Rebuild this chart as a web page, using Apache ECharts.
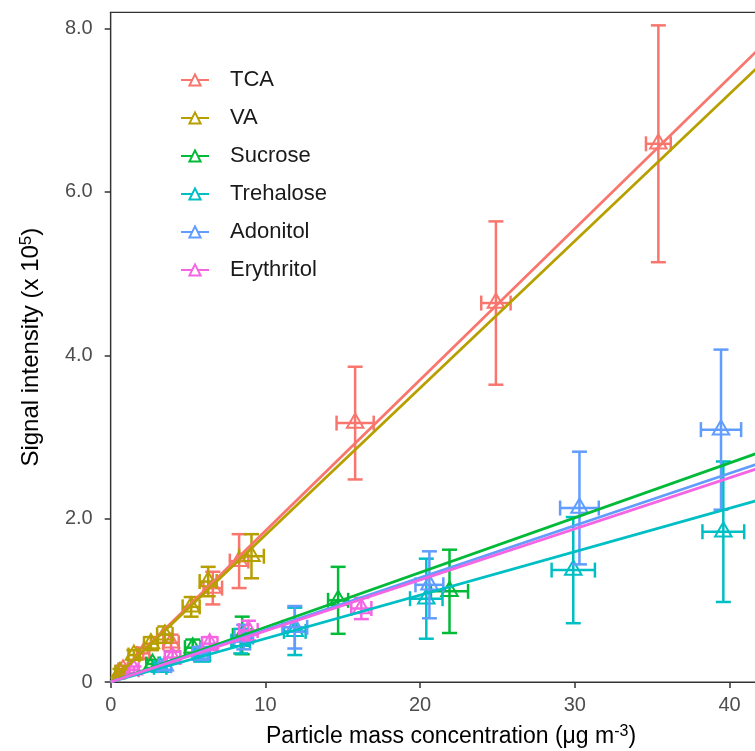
<!DOCTYPE html>
<html>
<head>
<meta charset="utf-8">
<script src="https://cdn.jsdelivr.net/npm/echarts@6/dist/echarts.min.js"></script>
<style>
html,body{margin:0;padding:0;background:#fff;overflow:hidden;}
/* plot panel runs past the right edge of the window, like the cropped original */
#chart{width:792px;height:751px;}
</style>
</head>
<body>
<div id="chart"></div>
<script>
// series names + ggplot hue colours
const seriesNames = ['TCA', 'VA', 'Sucrose', 'Trehalose', 'Adonitol', 'Erythritol']
const colors = ['#F8766D', '#B79F00', '#00BA38', '#00BFC4', '#619CFF', '#F564E3']

// points: x, y, half width of x error, half width of y error
const tcaX = [0.8, 2.1, 3.9, 6.6, 8.3, 15.8, 24.9, 35.4]
const tcaY = [0.15, 0.35, 0.48, 1.15, 1.48, 3.17, 4.64, 6.59]
const tcaXErr = [0.3, 0.4, 0.5, 0.6, 0.6, 1.2, 0.95, 0.8]
const tcaYErr = [0.05, 0.07, 0.1, 0.2, 0.33, 0.69, 1.0, 1.45]

const vaX = [0.6, 1.5, 2.6, 3.5, 5.2, 6.3, 9.1]
const vaY = [0.12, 0.33, 0.47, 0.58, 0.92, 1.23, 1.54]
const vaXErr = [0.3, 0.35, 0.45, 0.5, 0.55, 0.55, 0.8]
const vaYErr = [0.04, 0.06, 0.08, 0.1, 0.12, 0.18, 0.27]

const sucroseX = [2.7, 5.3, 8.5, 14.7, 21.9]
const sucroseY = [0.22, 0.42, 0.57, 1.0, 1.11]
const sucroseXErr = [0.4, 0.5, 0.6, 0.65, 1.2]
const sucroseYErr = [0.05, 0.1, 0.23, 0.41, 0.51]

const trehaloseX = [3.2, 5.9, 8.4, 11.9, 20.4, 29.9, 39.6]
const trehaloseY = [0.18, 0.33, 0.5, 0.62, 1.02, 1.37, 1.84]
const trehaloseXErr = [0.4, 0.5, 0.6, 0.7, 1.05, 1.4, 1.35]
const trehaloseYErr = [0.05, 0.08, 0.15, 0.29, 0.49, 0.65, 0.86]

const adonitolX = [3.5, 5.8, 8.6, 11.9, 20.6, 30.3, 39.45]
const adonitolY = [0.2, 0.35, 0.55, 0.67, 1.19, 2.13, 3.09]
const adonitolXErr = [0.4, 0.5, 0.6, 0.8, 0.9, 1.25, 1.3]
const adonitolYErr = [0.05, 0.08, 0.15, 0.26, 0.41, 0.69, 0.98]

const erythritolX = [1.5, 4.0, 6.4, 8.9, 16.2]
const erythritolY = [0.15, 0.3, 0.47, 0.63, 0.9]
const erythritolXErr = [0.3, 0.5, 0.5, 0.6, 0.65]
const erythritolYErr = [0.04, 0.07, 0.08, 0.12, 0.13]

// fitted lines: start and end x, and y at each end
const fitX = [0, 44]
const fitStartY = [0, 0, 0, 0, 0, 0]
const fitEndY = [8.14, 7.92, 2.95, 2.34, 2.81, 2.75]

const xTicks = [0, 10, 20, 30, 40]
const yTicks = [0, 2, 4, 6, 8]

const pointSets = [
    [tcaX, tcaY, tcaXErr, tcaYErr],
    [vaX, vaY, vaXErr, vaYErr],
    [sucroseX, sucroseY, sucroseXErr, sucroseYErr],
    [trehaloseX, trehaloseY, trehaloseXErr, trehaloseYErr],
    [adonitolX, adonitolY, adonitolXErr, adonitolYErr],
    [erythritolX, erythritolY, erythritolXErr, erythritolYErr]
]

const font = '"Liberation Sans", Arial, sans-serif'

function makeRender(color){
    return function(params, api){
        const x = api.value(0), y = api.value(1), xe = api.value(2), ye = api.value(3)
        const c = api.coord([x, y])
        const t = api.coord([x, y + ye])
        const b = api.coord([x, y - ye])
        const l = api.coord([x - xe, y])
        const r = api.coord([x + xe, y])
        const cap = 7.5, rr = 9.5
        const st = {stroke: color, lineWidth: 2.5, fill: null}
        const seg = (x1, y1, x2, y2) => ({type: 'line', shape: {x1, y1, x2, y2}, style: st})
        return {
            type: 'group',
            children: [
                seg(t[0], t[1], b[0], b[1]),
                seg(t[0] - cap, t[1], t[0] + cap, t[1]),
                seg(b[0] - cap, b[1], b[0] + cap, b[1]),
                seg(l[0], l[1], r[0], r[1]),
                seg(l[0], l[1] - cap, l[0], l[1] + cap),
                seg(r[0], r[1] - cap, r[0], r[1] + cap),
                {
                    type: 'polygon',
                    shape: {points: [
                        [c[0], c[1] - rr],
                        [c[0] - rr * 0.866, c[1] + rr / 2],
                        [c[0] + rr * 0.866, c[1] + rr / 2]
                    ]},
                    style: {stroke: color, lineWidth: 2, fill: 'none'}
                }
            ]
        }
    }
}

const series = []
seriesNames.forEach((name, i) => {
    series.push({
        name: name,
        type: 'line',
        data: [[fitX[0], fitStartY[i]], [fitX[1], fitEndY[i]]],
        symbol: 'emptyTriangle',
        symbolSize: 16,
        showSymbol: false,
        color: colors[i],
        lineStyle: {color: colors[i], width: 2.8},
        itemStyle: {color: colors[i], borderWidth: 2},
        silent: true,
        animation: false,
        z: 3
    })
})
seriesNames.forEach((name, i) => {
    const s = pointSets[i]
    series.push({
        name: name,
        type: 'custom',
        renderItem: makeRender(colors[i]),
        data: s[0].map((x, k) => [x, s[1][k], s[2][k], s[3][k]]),
        animation: false,
        z: 2
    })
})

const chart = echarts.init(document.getElementById('chart'))
chart.setOption({
    backgroundColor: '#fff',
    animation: false,
    grid: {
        show: true,
        left: 110.7,
        top: 12.3,
        bottom: 69,
        right: 0.6,
        outerBoundsMode: 'none',
        containLabel: false,
        borderColor: '#333',
        borderWidth: 1.2
    },
    legend: {
        data: seriesNames,
        orient: 'vertical',
        left: 175,
        top: 64,
        itemWidth: 28,
        itemHeight: 14,
        itemGap: 16,
        textStyle: {fontSize: 22, fontFamily: font, color: '#1a1a1a', lineHeight: 22, padding: [0, 0, 0, 16]}
    },
    xAxis: {
        type: 'value',
        min: 0,
        max: 44,
        interval: 10,
        splitLine: {show: false},
        axisLine: {show: true, lineStyle: {color: '#333', width: 1.2}},
        axisTick: {show: true, length: 6, lineStyle: {color: '#333', width: 1.5},
            customValues: xTicks},
        axisLabel: {fontSize: 20, fontFamily: font, color: '#4d4d4d', margin: 13,
            customValues: xTicks},
        name: 'Particle mass concentration (μg m{sup|-3})',
        nameLocation: 'middle',
        nameGap: 42,
        nameTextStyle: {fontSize: 23, fontFamily: font, color: '#000', lineHeight: 26,
            rich: {sup: {fontSize: 16, fontFamily: font, color: '#000', verticalAlign: 'top', lineHeight: 16}}}
    },
    yAxis: {
        type: 'value',
        min: 0,
        max: 8.2,
        interval: 2,
        splitLine: {show: false},
        axisLine: {show: true, lineStyle: {color: '#333', width: 1.2}},
        axisTick: {show: true, length: 6, lineStyle: {color: '#333', width: 1.5},
            customValues: yTicks},
        axisLabel: {fontSize: 20, fontFamily: font, color: '#4d4d4d', margin: 18,
            customValues: yTicks,
            formatter: v => v === 0 ? '0' : v.toFixed(1)},
        name: 'Signal intensity (x 10{sup|5})',
        nameLocation: 'middle',
        nameRotate: 90,
        nameGap: 66,
        nameTextStyle: {fontSize: 24, fontFamily: font, color: '#000', lineHeight: 27,
            rich: {sup: {fontSize: 17, fontFamily: font, color: '#000', verticalAlign: 'top', lineHeight: 17}}}
    },
    series: series
})
window.onresize = () => { chart.resize() }
</script>
</body>
</html>
